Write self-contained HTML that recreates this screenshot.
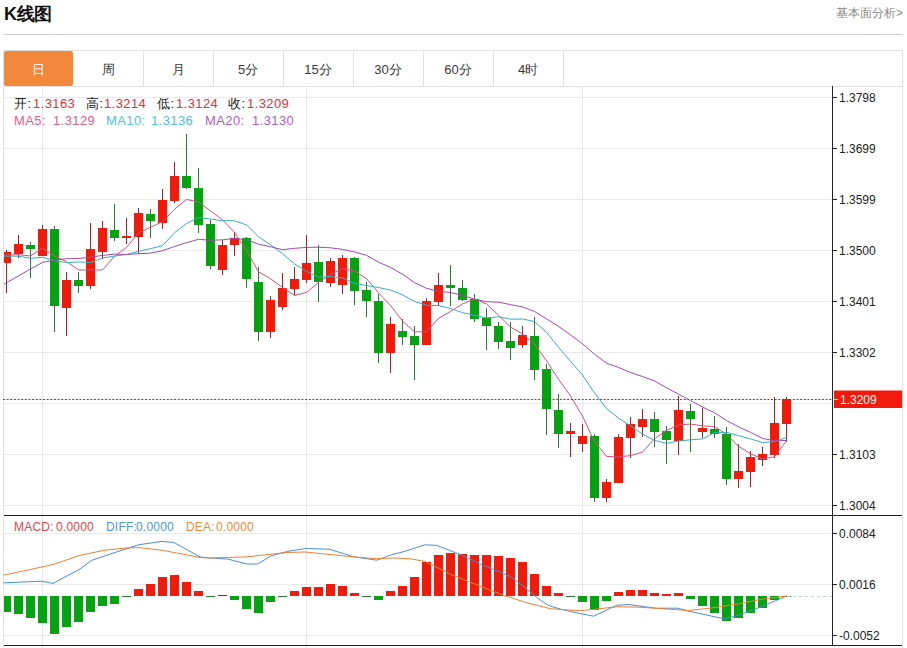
<!DOCTYPE html>
<html><head><meta charset="utf-8">
<style>
html,body{margin:0;padding:0;background:#fff;}
body{width:907px;height:648px;position:relative;overflow:hidden;font-family:"Liberation Sans",sans-serif;}
.title{position:absolute;left:4px;top:3px;font-size:18px;font-weight:bold;color:#111;line-height:22px;letter-spacing:-0.4px;}
.more{position:absolute;right:4px;top:5px;font-size:12px;color:#8a8a8a;line-height:16px;}
.hr{position:absolute;left:3px;top:34px;width:900px;height:1px;background:#cfcfcf;}
.tabs{position:absolute;left:3px;top:50px;width:898px;height:35px;border:1px solid #e2e2e2;border-bottom:1px solid #e2e2e2;box-sizing:content-box;}
.tab{position:absolute;top:0;height:35px;width:70px;line-height:37px;text-align:center;font-size:13px;color:#3a3a3a;}
.sep{position:absolute;top:0;width:1px;height:35px;background:#e2e2e2;}
.tab.on{background:#f4883a;color:#fff;border-radius:2px;left:0 !important;}
.chart{position:absolute;left:0;top:0;}
.info{position:absolute;left:14px;font-size:13px;line-height:16px;white-space:pre;}
.info{letter-spacing:0.4px}
.info.m{font-size:12px;letter-spacing:0.2px}
.k{color:#222} .r{color:#d8343c}
.ax{font-family:"Liberation Sans",sans-serif;font-size:12px;fill:#222;}
.frame{position:absolute;left:3px;top:86px;width:898px;height:562px;border-left:1px solid #e2e2e2;border-right:1px solid #e2e2e2;}
</style></head><body>
<div class="title">K线图</div>
<div class="more">基本面分析&gt;</div>
<div class="hr"></div>
<div class="tabs">
<div class="tab on" style="left:1px;width:69px">日</div>
<div class="tab" style="left:69px;width:70px">周</div>
<div class="tab" style="left:139px;width:70px">月</div>
<div class="tab" style="left:209px;width:70px">5分</div>
<div class="tab" style="left:279px;width:70px">15分</div>
<div class="tab" style="left:349px;width:70px">30分</div>
<div class="tab" style="left:419px;width:70px">60分</div>
<div class="tab" style="left:489px;width:70px">4时</div>
<div class="sep" style="left:139px"></div>
<div class="sep" style="left:209px"></div>
<div class="sep" style="left:279px"></div>
<div class="sep" style="left:349px"></div>
<div class="sep" style="left:419px"></div>
<div class="sep" style="left:489px"></div>
<div class="sep" style="left:559px"></div>
</div>
<div class="frame"></div>
<svg class="chart" width="907" height="648"><defs><clipPath id="cp"><rect x="4" y="86" width="828" height="559"/></clipPath></defs>
<line x1="3" y1="97.5" x2="832" y2="97.5" stroke="#eaeaea" stroke-width="1"/>
<line x1="3" y1="148.5" x2="832" y2="148.5" stroke="#eaeaea" stroke-width="1"/>
<line x1="3" y1="199.5" x2="832" y2="199.5" stroke="#eaeaea" stroke-width="1"/>
<line x1="3" y1="250.5" x2="832" y2="250.5" stroke="#eaeaea" stroke-width="1"/>
<line x1="3" y1="301.5" x2="832" y2="301.5" stroke="#eaeaea" stroke-width="1"/>
<line x1="3" y1="352.5" x2="832" y2="352.5" stroke="#eaeaea" stroke-width="1"/>
<line x1="3" y1="403.5" x2="832" y2="403.5" stroke="#eaeaea" stroke-width="1"/>
<line x1="3" y1="454.5" x2="832" y2="454.5" stroke="#eaeaea" stroke-width="1"/>
<line x1="3" y1="505.5" x2="832" y2="505.5" stroke="#eaeaea" stroke-width="1"/>
<line x1="3" y1="533.5" x2="832" y2="533.5" stroke="#eaeaea" stroke-width="1"/>
<line x1="3" y1="584.5" x2="832" y2="584.5" stroke="#eaeaea" stroke-width="1"/>
<line x1="3" y1="635.5" x2="832" y2="635.5" stroke="#eaeaea" stroke-width="1"/>
<line x1="42.5" y1="86" x2="42.5" y2="648" stroke="#e4e8ec" stroke-width="1"/>
<line x1="306.5" y1="86" x2="306.5" y2="648" stroke="#e4e8ec" stroke-width="1"/>
<line x1="582.5" y1="86" x2="582.5" y2="648" stroke="#e4e8ec" stroke-width="1"/>
<g clip-path="url(#cp)">
<rect x="6" y="250" width="1" height="43" fill="#a8202c"/>
<rect x="2" y="252" width="9" height="11" fill="#f21a0a"/>
<rect x="18" y="235" width="1" height="23" fill="#a8202c"/>
<rect x="14" y="244" width="9" height="10" fill="#f21a0a"/>
<rect x="30" y="242" width="1" height="36" fill="#2a7a34"/>
<rect x="26" y="245" width="9" height="4" fill="#05a312"/>
<rect x="42" y="225" width="1" height="31" fill="#a8202c"/>
<rect x="38" y="229" width="9" height="27" fill="#f21a0a"/>
<rect x="54" y="226" width="1" height="106" fill="#2a7a34"/>
<rect x="50" y="229" width="9" height="77" fill="#05a312"/>
<rect x="66" y="272" width="1" height="64" fill="#a8202c"/>
<rect x="62" y="280" width="9" height="28" fill="#f21a0a"/>
<rect x="78" y="272" width="1" height="21" fill="#2a7a34"/>
<rect x="74" y="280" width="9" height="6" fill="#05a312"/>
<rect x="90" y="223" width="1" height="66" fill="#a8202c"/>
<rect x="86" y="249" width="9" height="37" fill="#f21a0a"/>
<rect x="102" y="221" width="1" height="38" fill="#a8202c"/>
<rect x="98" y="228" width="9" height="24" fill="#f21a0a"/>
<rect x="114" y="204" width="1" height="37" fill="#2a7a34"/>
<rect x="110" y="230" width="9" height="8" fill="#05a312"/>
<rect x="126" y="218" width="1" height="26" fill="#a8202c"/>
<rect x="122" y="236" width="9" height="2" fill="#f21a0a"/>
<rect x="138" y="208" width="1" height="46" fill="#a8202c"/>
<rect x="134" y="213" width="9" height="24" fill="#f21a0a"/>
<rect x="150" y="209" width="1" height="29" fill="#2a7a34"/>
<rect x="146" y="214" width="9" height="7" fill="#05a312"/>
<rect x="162" y="189" width="1" height="40" fill="#a8202c"/>
<rect x="158" y="200" width="9" height="23" fill="#f21a0a"/>
<rect x="174" y="162" width="1" height="41" fill="#a8202c"/>
<rect x="170" y="176" width="9" height="25" fill="#f21a0a"/>
<rect x="186" y="134" width="1" height="55" fill="#2a7a34"/>
<rect x="182" y="176" width="9" height="12" fill="#05a312"/>
<rect x="198" y="168" width="1" height="65" fill="#2a7a34"/>
<rect x="194" y="188" width="9" height="37" fill="#05a312"/>
<rect x="210" y="220" width="1" height="49" fill="#2a7a34"/>
<rect x="206" y="224" width="9" height="42" fill="#05a312"/>
<rect x="222" y="240" width="1" height="35" fill="#a8202c"/>
<rect x="218" y="245" width="9" height="25" fill="#f21a0a"/>
<rect x="234" y="232" width="1" height="24" fill="#a8202c"/>
<rect x="230" y="238" width="9" height="7" fill="#f21a0a"/>
<rect x="246" y="237" width="1" height="51" fill="#2a7a34"/>
<rect x="242" y="238" width="9" height="41" fill="#05a312"/>
<rect x="258" y="267" width="1" height="74" fill="#2a7a34"/>
<rect x="254" y="282" width="9" height="50" fill="#05a312"/>
<rect x="270" y="296" width="1" height="42" fill="#a8202c"/>
<rect x="266" y="300" width="9" height="32" fill="#f21a0a"/>
<rect x="282" y="273" width="1" height="37" fill="#a8202c"/>
<rect x="278" y="288" width="9" height="19" fill="#f21a0a"/>
<rect x="294" y="267" width="1" height="28" fill="#a8202c"/>
<rect x="290" y="279" width="9" height="10" fill="#f21a0a"/>
<rect x="306" y="235" width="1" height="48" fill="#a8202c"/>
<rect x="302" y="263" width="9" height="17" fill="#f21a0a"/>
<rect x="318" y="245" width="1" height="57" fill="#2a7a34"/>
<rect x="314" y="262" width="9" height="20" fill="#05a312"/>
<rect x="330" y="258" width="1" height="29" fill="#a8202c"/>
<rect x="326" y="261" width="9" height="22" fill="#f21a0a"/>
<rect x="342" y="255" width="1" height="39" fill="#a8202c"/>
<rect x="338" y="258" width="9" height="27" fill="#f21a0a"/>
<rect x="354" y="257" width="1" height="48" fill="#2a7a34"/>
<rect x="350" y="258" width="9" height="33" fill="#05a312"/>
<rect x="366" y="282" width="1" height="35" fill="#2a7a34"/>
<rect x="362" y="290" width="9" height="11" fill="#05a312"/>
<rect x="378" y="294" width="1" height="69" fill="#2a7a34"/>
<rect x="374" y="301" width="9" height="52" fill="#05a312"/>
<rect x="390" y="317" width="1" height="56" fill="#a8202c"/>
<rect x="386" y="324" width="9" height="29" fill="#f21a0a"/>
<rect x="402" y="319" width="1" height="26" fill="#2a7a34"/>
<rect x="398" y="331" width="9" height="6" fill="#05a312"/>
<rect x="414" y="326" width="1" height="54" fill="#2a7a34"/>
<rect x="410" y="336" width="9" height="9" fill="#05a312"/>
<rect x="426" y="298" width="1" height="47" fill="#a8202c"/>
<rect x="422" y="301" width="9" height="44" fill="#f21a0a"/>
<rect x="438" y="273" width="1" height="33" fill="#a8202c"/>
<rect x="434" y="285" width="9" height="17" fill="#f21a0a"/>
<rect x="450" y="265" width="1" height="41" fill="#2a7a34"/>
<rect x="446" y="285" width="9" height="3" fill="#05a312"/>
<rect x="462" y="280" width="1" height="21" fill="#2a7a34"/>
<rect x="458" y="288" width="9" height="12" fill="#05a312"/>
<rect x="474" y="294" width="1" height="28" fill="#2a7a34"/>
<rect x="470" y="299" width="9" height="20" fill="#05a312"/>
<rect x="486" y="308" width="1" height="42" fill="#2a7a34"/>
<rect x="482" y="318" width="9" height="8" fill="#05a312"/>
<rect x="498" y="322" width="1" height="27" fill="#2a7a34"/>
<rect x="494" y="326" width="9" height="16" fill="#05a312"/>
<rect x="510" y="322" width="1" height="38" fill="#2a7a34"/>
<rect x="506" y="341" width="9" height="7" fill="#05a312"/>
<rect x="522" y="326" width="1" height="22" fill="#a8202c"/>
<rect x="518" y="335" width="9" height="10" fill="#f21a0a"/>
<rect x="534" y="317" width="1" height="63" fill="#2a7a34"/>
<rect x="530" y="336" width="9" height="34" fill="#05a312"/>
<rect x="546" y="364" width="1" height="71" fill="#2a7a34"/>
<rect x="542" y="369" width="9" height="40" fill="#05a312"/>
<rect x="558" y="394" width="1" height="54" fill="#2a7a34"/>
<rect x="554" y="410" width="9" height="24" fill="#05a312"/>
<rect x="570" y="423" width="1" height="34" fill="#a8202c"/>
<rect x="566" y="431" width="9" height="3" fill="#f21a0a"/>
<rect x="582" y="424" width="1" height="28" fill="#a8202c"/>
<rect x="578" y="436" width="9" height="8" fill="#f21a0a"/>
<rect x="594" y="434" width="1" height="68" fill="#2a7a34"/>
<rect x="590" y="436" width="9" height="62" fill="#05a312"/>
<rect x="606" y="479" width="1" height="23" fill="#a8202c"/>
<rect x="602" y="482" width="9" height="16" fill="#f21a0a"/>
<rect x="618" y="434" width="1" height="49" fill="#a8202c"/>
<rect x="614" y="437" width="9" height="46" fill="#f21a0a"/>
<rect x="630" y="417" width="1" height="41" fill="#a8202c"/>
<rect x="626" y="424" width="9" height="14" fill="#f21a0a"/>
<rect x="642" y="409" width="1" height="28" fill="#a8202c"/>
<rect x="638" y="419" width="9" height="8" fill="#f21a0a"/>
<rect x="654" y="412" width="1" height="35" fill="#2a7a34"/>
<rect x="650" y="419" width="9" height="13" fill="#05a312"/>
<rect x="666" y="426" width="1" height="38" fill="#2a7a34"/>
<rect x="662" y="431" width="9" height="9" fill="#05a312"/>
<rect x="678" y="396" width="1" height="59" fill="#a8202c"/>
<rect x="674" y="410" width="9" height="31" fill="#f21a0a"/>
<rect x="690" y="404" width="1" height="48" fill="#2a7a34"/>
<rect x="686" y="411" width="9" height="8" fill="#05a312"/>
<rect x="702" y="408" width="1" height="30" fill="#a8202c"/>
<rect x="698" y="428" width="9" height="4" fill="#f21a0a"/>
<rect x="714" y="416" width="1" height="22" fill="#2a7a34"/>
<rect x="710" y="429" width="9" height="5" fill="#05a312"/>
<rect x="726" y="427" width="1" height="58" fill="#2a7a34"/>
<rect x="722" y="434" width="9" height="45" fill="#05a312"/>
<rect x="738" y="444" width="1" height="44" fill="#a8202c"/>
<rect x="734" y="471" width="9" height="8" fill="#f21a0a"/>
<rect x="750" y="451" width="1" height="36" fill="#a8202c"/>
<rect x="746" y="457" width="9" height="15" fill="#f21a0a"/>
<rect x="762" y="447" width="1" height="19" fill="#a8202c"/>
<rect x="758" y="454" width="9" height="6" fill="#f21a0a"/>
<rect x="774" y="397" width="1" height="61" fill="#a8202c"/>
<rect x="770" y="423" width="9" height="32" fill="#f21a0a"/>
<rect x="786" y="397" width="1" height="45" fill="#a8202c"/>
<rect x="782" y="399" width="9" height="25" fill="#f21a0a"/>
<polyline points="-5.5,255.3 6.5,255 18.5,254.7 30.5,256 42.5,248 54.5,256 66.5,261.6 78.5,269.9 90.5,270 102.5,269.9 114.5,256.2 126.5,247.4 138.5,232.9 150.5,227.2 162.5,221.6 174.5,209.2 186.5,199.5 198.5,201.8 210.5,210.9 222.5,219.8 234.5,232.3 246.5,250.4 258.5,271.9 270.5,278.7 282.5,287.4 294.5,295.6 306.5,292.4 318.5,282.4 330.5,274.5 342.5,268.6 354.5,271 366.5,278.7 378.5,292.8 390.5,305.4 402.5,321.1 414.5,331.8 426.5,331.9 438.5,318.4 450.5,311.4 462.5,304 474.5,298.9 486.5,303.9 498.5,315.2 510.5,327 522.5,333.9 534.5,344.1 546.5,360.7 558.5,379.2 570.5,395.9 582.5,416.1 594.5,441.7 606.5,456.4 618.5,457 630.5,455.6 642.5,452.1 654.5,438.8 666.5,430.4 678.5,425 690.5,424 702.5,425.9 714.5,426.5 726.5,434.3 738.5,446.3 750.5,453.8 762.5,459 774.5,456.7 786.5,440.7" fill="none" stroke="#d4507c" stroke-width="1" stroke-linejoin="round"/>
<polyline points="-5.5,256.2 6.5,256.2 18.5,256.2 30.5,258.3 42.5,257.3 54.5,260.7 66.5,262.5 78.5,262 90.5,262.5 102.5,258 114.5,256.1 126.5,254.5 138.5,251.4 150.5,248.6 162.5,245.7 174.5,232.7 186.5,223.5 198.5,217.4 210.5,219.1 222.5,220.7 234.5,220.7 246.5,225 258.5,236.8 270.5,244.8 282.5,253.6 294.5,263.9 306.5,271.4 318.5,277.1 330.5,276.6 342.5,278 354.5,283.3 366.5,285.5 378.5,287.6 390.5,290 402.5,294.9 414.5,301.4 426.5,305.3 438.5,305.6 450.5,308.4 462.5,312.6 474.5,315.4 486.5,317.9 498.5,316.8 510.5,319.2 522.5,319 534.5,321.5 546.5,332.3 558.5,347.2 570.5,361.4 582.5,375 594.5,392.9 606.5,408.6 618.5,418.1 630.5,425.7 642.5,434.1 654.5,440.3 666.5,443.4 678.5,441 690.5,439.8 702.5,439 714.5,432.6 726.5,432.3 738.5,435.7 750.5,438.9 762.5,442.5 774.5,441.6 786.5,437.5" fill="none" stroke="#38aebc" stroke-width="1" stroke-linejoin="round"/>
<polyline points="-5.5,289.7 6.5,282.8 30.5,269 42.5,262.4 54.5,260.2 66.5,258.7 78.5,258.5 90.5,257.2 102.5,255.4 114.5,254.1 126.5,254.5 138.5,253.7 150.5,253.2 162.5,250.7 174.5,246.5 186.5,242.7 198.5,239.3 210.5,240.3 222.5,239.8 234.5,238.4 246.5,239.7 258.5,244.1 270.5,246.7 282.5,249.7 294.5,248.3 306.5,247.4 318.5,247.2 330.5,247.8 342.5,249.4 354.5,252 366.5,255.3 378.5,262.2 390.5,267.4 402.5,274.2 414.5,282.7 426.5,288.3 438.5,291.4 450.5,292.5 462.5,295.3 474.5,299.3 486.5,301.7 498.5,302.2 510.5,304.6 522.5,306.9 534.5,311.5 546.5,318.8 558.5,326.4 570.5,334.9 582.5,343.8 594.5,354.1 606.5,363.2 618.5,367.4 630.5,372.5 642.5,376.5 654.5,380.9 666.5,387.8 678.5,394.1 690.5,400.6 702.5,407 714.5,412.8 726.5,420.4 738.5,426.9 750.5,432.3 762.5,438.3 774.5,440.9 786.5,440.4" fill="none" stroke="#9a4ea8" stroke-width="1" stroke-linejoin="round"/>
</g>
<line x1="3" y1="399.5" x2="832" y2="399.5" stroke="#c0282a" stroke-width="1" stroke-dasharray="2 1.64"/>
<g clip-path="url(#cp)">
<rect x="2" y="596" width="9" height="16" fill="#05a312"/>
<rect x="14" y="596" width="9" height="18" fill="#05a312"/>
<rect x="26" y="596" width="9" height="22" fill="#05a312"/>
<rect x="38" y="596" width="9" height="27" fill="#05a312"/>
<rect x="50" y="596" width="9" height="38" fill="#05a312"/>
<rect x="62" y="596" width="9" height="31" fill="#05a312"/>
<rect x="74" y="596" width="9" height="26" fill="#05a312"/>
<rect x="86" y="596" width="9" height="16" fill="#05a312"/>
<rect x="98" y="596" width="9" height="10" fill="#05a312"/>
<rect x="110" y="596" width="9" height="8" fill="#05a312"/>
<rect x="122" y="596" width="9" height="1" fill="#2a7a34"/>
<rect x="134" y="589" width="9" height="7" fill="#f21a0a"/>
<rect x="146" y="584" width="9" height="12" fill="#f21a0a"/>
<rect x="158" y="577" width="9" height="19" fill="#f21a0a"/>
<rect x="170" y="575" width="9" height="21" fill="#f21a0a"/>
<rect x="182" y="582" width="9" height="14" fill="#f21a0a"/>
<rect x="194" y="591" width="9" height="5" fill="#f21a0a"/>
<rect x="206" y="596" width="9" height="1" fill="#2a7a34"/>
<rect x="218" y="595" width="9" height="1" fill="#a8202c"/>
<rect x="230" y="596" width="9" height="4" fill="#05a312"/>
<rect x="242" y="596" width="9" height="13" fill="#05a312"/>
<rect x="254" y="596" width="9" height="17" fill="#05a312"/>
<rect x="266" y="596" width="9" height="6" fill="#05a312"/>
<rect x="278" y="596" width="9" height="1" fill="#2a7a34"/>
<rect x="290" y="591" width="9" height="5" fill="#f21a0a"/>
<rect x="302" y="587" width="9" height="9" fill="#f21a0a"/>
<rect x="314" y="587" width="9" height="9" fill="#f21a0a"/>
<rect x="326" y="584" width="9" height="12" fill="#f21a0a"/>
<rect x="338" y="586" width="9" height="10" fill="#f21a0a"/>
<rect x="350" y="593" width="9" height="3" fill="#f21a0a"/>
<rect x="362" y="596" width="9" height="1" fill="#2a7a34"/>
<rect x="374" y="596" width="9" height="4" fill="#05a312"/>
<rect x="386" y="591" width="9" height="5" fill="#f21a0a"/>
<rect x="398" y="586" width="9" height="10" fill="#f21a0a"/>
<rect x="410" y="577" width="9" height="19" fill="#f21a0a"/>
<rect x="422" y="562" width="9" height="34" fill="#f21a0a"/>
<rect x="434" y="555" width="9" height="41" fill="#f21a0a"/>
<rect x="446" y="553" width="9" height="43" fill="#f21a0a"/>
<rect x="458" y="554" width="9" height="42" fill="#f21a0a"/>
<rect x="470" y="555" width="9" height="41" fill="#f21a0a"/>
<rect x="482" y="555" width="9" height="41" fill="#f21a0a"/>
<rect x="494" y="556" width="9" height="40" fill="#f21a0a"/>
<rect x="506" y="558" width="9" height="38" fill="#f21a0a"/>
<rect x="518" y="562" width="9" height="34" fill="#f21a0a"/>
<rect x="530" y="574" width="9" height="22" fill="#f21a0a"/>
<rect x="542" y="586" width="9" height="10" fill="#f21a0a"/>
<rect x="554" y="593" width="9" height="3" fill="#f21a0a"/>
<rect x="566" y="596" width="9" height="1" fill="#2a7a34"/>
<rect x="578" y="596" width="9" height="6" fill="#05a312"/>
<rect x="590" y="596" width="9" height="14" fill="#05a312"/>
<rect x="602" y="596" width="9" height="5" fill="#05a312"/>
<rect x="614" y="592" width="9" height="4" fill="#f21a0a"/>
<rect x="626" y="590" width="9" height="6" fill="#f21a0a"/>
<rect x="638" y="590" width="9" height="6" fill="#f21a0a"/>
<rect x="650" y="593" width="9" height="3" fill="#f21a0a"/>
<rect x="662" y="594" width="9" height="2" fill="#f21a0a"/>
<rect x="674" y="593" width="9" height="3" fill="#f21a0a"/>
<rect x="686" y="596" width="9" height="3" fill="#05a312"/>
<rect x="698" y="596" width="9" height="10" fill="#05a312"/>
<rect x="710" y="596" width="9" height="17" fill="#05a312"/>
<rect x="722" y="596" width="9" height="25" fill="#05a312"/>
<rect x="734" y="596" width="9" height="22" fill="#05a312"/>
<rect x="746" y="596" width="9" height="17" fill="#05a312"/>
<rect x="758" y="596" width="9" height="12" fill="#05a312"/>
<rect x="770" y="596" width="9" height="4" fill="#05a312"/>
<rect x="782" y="596" width="9" height="1" fill="#2a7a34"/>
</g>
<polyline points="3.5,582.9 41,581.2 53,583.4 80,569 92,560.2 115,552.5 139,544.7 162,541.4 174,542.5 200,556.9 209.3,558 228,559.1 246.8,564 257.8,564 271,555.8 287.6,551.4 305.3,548.5 329.5,549.2 353.8,556.9 376.9,560.2 391.6,554.7 404.8,551.4 424.7,544.8 436.8,545.4 457.8,553.6 484.2,565.7 510.7,576.7 522.8,585.6 537.1,597.7 548.2,605.4 561.4,609.4 575,612.5 593.6,616.2 616.6,605.3 628,604.5 641,606.2 655.3,608.2 678.2,608.2 688.2,611 724,618.8 738.4,615.3 762.8,606.2 786.3,596.1" fill="none" stroke="#4a8fd6" stroke-width="1" stroke-linejoin="round"/>
<polyline points="3.5,575.2 53,564.6 80,555.3 104,550.3 127,548 139,547.6 162,550.3 186,554.7 200,557.5 209,558 246,556.9 287,552.5 305,552 353.8,556.9 376.9,558.7 393.5,558 409.3,558.7 424.7,561.3 451.2,574.5 484.2,587.8 504,595.5 528.3,603.2 550.4,608.7 575,610.5 584.6,610.3 618,606.7 641,607.3 688.2,610.5 709.7,608.2 738.4,603.9 762.8,599 786.3,596.1" fill="none" stroke="#ec8236" stroke-width="1" stroke-linejoin="round"/>
<line x1="787" y1="596.5" x2="832" y2="596.5" stroke="#b8d4e8" stroke-width="1" stroke-dasharray="3,3"/>
<line x1="832.5" y1="86" x2="832.5" y2="645" stroke="#222" stroke-width="1"/>
<line x1="4" y1="515.5" x2="902" y2="515.5" stroke="#222" stroke-width="1"/>
<line x1="4" y1="645.5" x2="902" y2="645.5" stroke="#222" stroke-width="1"/>
<line x1="832" y1="97.5" x2="837" y2="97.5" stroke="#222" stroke-width="1"/>
<text x="839" y="101.5" class="ax">1.3798</text>
<line x1="832" y1="148.5" x2="837" y2="148.5" stroke="#222" stroke-width="1"/>
<text x="839" y="152.5" class="ax">1.3699</text>
<line x1="832" y1="199.5" x2="837" y2="199.5" stroke="#222" stroke-width="1"/>
<text x="839" y="203.5" class="ax">1.3599</text>
<line x1="832" y1="250.5" x2="837" y2="250.5" stroke="#222" stroke-width="1"/>
<text x="839" y="254.5" class="ax">1.3500</text>
<line x1="832" y1="301.5" x2="837" y2="301.5" stroke="#222" stroke-width="1"/>
<text x="839" y="305.5" class="ax">1.3401</text>
<line x1="832" y1="352.5" x2="837" y2="352.5" stroke="#222" stroke-width="1"/>
<text x="839" y="356.5" class="ax">1.3302</text>
<line x1="832" y1="454.5" x2="837" y2="454.5" stroke="#222" stroke-width="1"/>
<text x="839" y="458.5" class="ax">1.3103</text>
<line x1="832" y1="505.5" x2="837" y2="505.5" stroke="#222" stroke-width="1"/>
<text x="839" y="509.5" class="ax">1.3004</text>
<line x1="832" y1="533.5" x2="837" y2="533.5" stroke="#222" stroke-width="1"/>
<text x="839" y="537.9" class="ax">0.0084</text>
<line x1="832" y1="584.5" x2="837" y2="584.5" stroke="#222" stroke-width="1"/>
<text x="839" y="588.5" class="ax">0.0016</text>
<line x1="832" y1="635.5" x2="837" y2="635.5" stroke="#222" stroke-width="1"/>
<text x="839" y="639.9" class="ax">-0.0052</text>
<rect x="834" y="390.5" width="68" height="17.5" fill="#f21a0a"/>
<line x1="833" y1="399.5" x2="838" y2="399.5" stroke="#fff" stroke-width="1"/>
<text x="840" y="404" class="ax" fill="#fff" style="fill:#fff">1.3209</text>
</svg>
<div class="info" style="top:96px;left:14px"><span class="k">开:</span></div>
<div class="info r" style="top:96px;left:33px">1.3163</div>
<div class="info" style="top:96px;left:86px"><span class="k">高:</span></div>
<div class="info r" style="top:96px;left:104px">1.3214</div>
<div class="info" style="top:96px;left:157px"><span class="k">低:</span></div>
<div class="info r" style="top:96px;left:176px">1.3124</div>
<div class="info" style="top:96px;left:228px"><span class="k">收:</span></div>
<div class="info r" style="top:96px;left:247px">1.3209</div>
<div class="info" style="top:113px;left:14px;color:#e0608a">MA5:</div>
<div class="info" style="top:113px;left:53px;color:#e0608a">1.3129</div>
<div class="info" style="top:113px;left:106px;color:#4cc4d4">MA10:</div>
<div class="info" style="top:113px;left:151px;color:#4cc4d4">1.3136</div>
<div class="info" style="top:113px;left:205px;color:#b25ec4">MA20:</div>
<div class="info" style="top:113px;left:252px;color:#b25ec4">1.3130</div>
<div class="info m" style="top:519px;left:14px;color:#e04848">MACD:</div>
<div class="info m" style="top:519px;left:56px;color:#e04848">0.0000</div>
<div class="info m" style="top:519px;left:106px;color:#4a98dc">DIFF:</div>
<div class="info m" style="top:519px;left:136px;color:#4a98dc">0.0000</div>
<div class="info m" style="top:519px;left:186px;color:#ef8a3a">DEA:</div>
<div class="info m" style="top:519px;left:216px;color:#ef8a3a">0.0000</div>
</body></html>
